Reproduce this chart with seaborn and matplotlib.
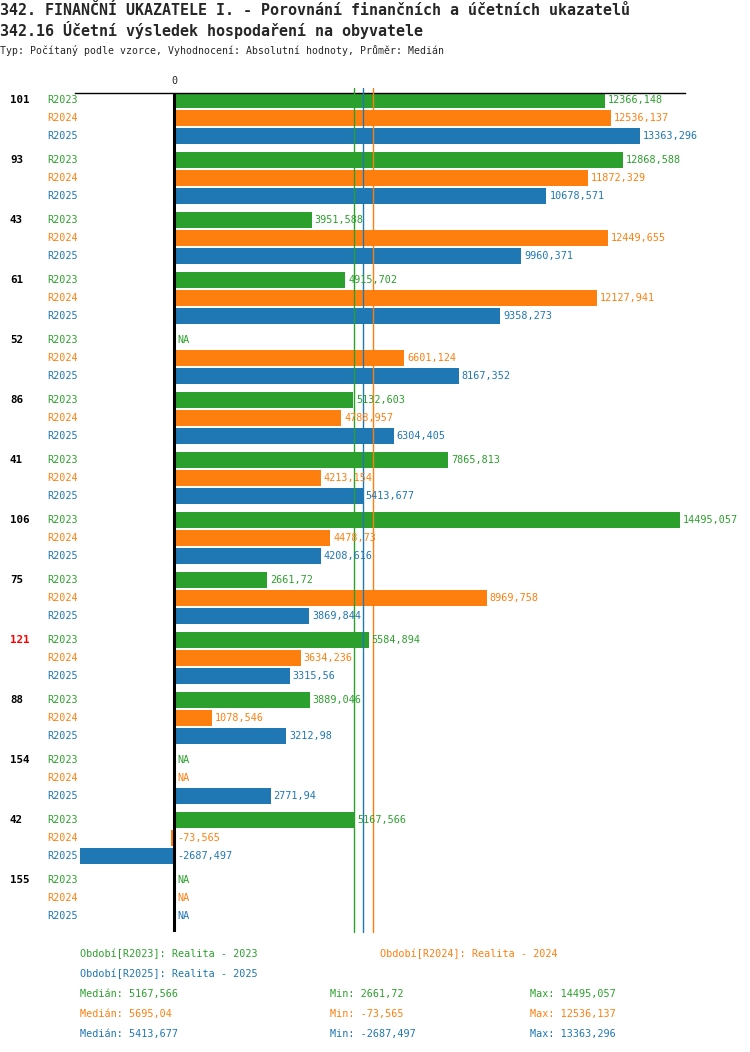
import numpy as np
import pandas as pd
import matplotlib
matplotlib.use("Agg")
import matplotlib.pyplot as plt
import matplotlib.transforms as mtransforms
import seaborn as sns
from decimal import Decimal, ROUND_HALF_EVEN

groups = ["101", "93", "43", "61", "52", "86", "41", "106", "75", "121", "88", "154", "42", "155"]
periods = ["R2023", "R2024", "R2025"]
r2023 = [12366.148, 12868.588, 3951.588, 4915.702, np.nan, 5132.603, 7865.813,
         14495.057, 2661.72, 5584.894, 3889.046, np.nan, 5167.566, np.nan]
r2024 = [12536.137, 11872.329, 12449.655, 12127.941, 6601.124, 4788.957, 4213.154,
         4478.73, 8969.758, 3634.236, 1078.546, np.nan, -73.565, np.nan]
r2025 = [13363.296, 10678.571, 9960.371, 9358.273, 8167.352, 6304.405, 5413.677,
         4208.616, 3869.844, 3315.56, 3212.98, 2771.94, -2687.497, np.nan]
highlight = "121"
period_names = {"R2023": "Realita - 2023", "R2024": "Realita - 2024", "R2025": "Realita - 2025"}
colors = {"R2023": "#2ca02c", "R2024": "#ff7f0e", "R2025": "#1f77b4"}

series = {"R2023": r2023, "R2024": r2024, "R2025": r2025}
df = pd.DataFrame({
    "group": np.repeat(groups, 3),
    "period": periods * len(groups),
    "value": np.column_stack([r2023, r2024, r2025]).ravel(),
})


def fmt(v):
    if np.isnan(v):
        return "NA"
    d = Decimal(repr(float(v))).quantize(Decimal("0.001"), rounding=ROUND_HALF_EVEN)
    s = str(d).rstrip("0").rstrip(".")
    return s.replace(".", ",")


sns.set_style("white")
plt.rcParams["font.family"] = ["DejaVu Sans Mono", "DejaVu Sans"]

W, H = 750, 1052
fig = plt.figure(figsize=(W / 100, H / 100), dpi=100)
ax = fig.add_axes([75 / W, 1 - 932 / H, 610 / W, (932 - 93) / H])

sns.barplot(data=df, y="group", x="value", hue="period", order=groups,
            hue_order=periods, palette=colors, orient="h", width=0.9, gap=0.11,
            saturation=1, linewidth=0, legend=False, ax=ax)

# 0 sits at pixel 174, the largest value at ~679
ppu = 505.5 / 14495.057
ax.set_xlim((75 - 174) / ppu, (685 - 174) / ppu)
ax.set_ylim(13 + 34 / 60, -25 / 60)
ax.set_xlabel("")
ax.set_ylabel("")
ax.set_yticks([])
ax.xaxis.tick_top()
ax.set_xticks([0])
ax.set_xticklabels(["0"])
ax.tick_params(axis="x", length=0, pad=5, labelsize=7.3)
for side in ["left", "right", "bottom"]:
    ax.spines[side].set_visible(False)
ax.spines["top"].set_color("black")
ax.spines["top"].set_linewidth(1)

ax.axvline(0, color="black", lw=2.2, zorder=4)

medians = {p: np.nanmedian(series[p]) for p in periods}
for p in periods:
    ax.axvline(medians[p], color=colors[p], lw=1, ymin=0, ymax=1 + 5 / 839,
               clip_on=False, zorder=3)

offsets = [-0.3, 0.0, 0.3]
lab = mtransforms.blended_transform_factory(fig.transFigure, ax.transData)
for i, g in enumerate(groups):
    ax.text(10 / W, i + offsets[0], g, transform=lab, va="center", ha="left",
            fontsize=7.8, fontweight="bold",
            color="red" if g == highlight else "black")
    for k, p in enumerate(periods):
        v = series[p][i]
        y = i + offsets[k]
        ax.text(47 / W, y, p, transform=lab, va="center", ha="left",
                fontsize=7.3, color=colors[p])
        x = v if (not np.isnan(v) and v > 0) else 0
        ax.annotate(fmt(v), (x, y), xytext=(3, 0), textcoords="offset pixels",
                    va="center", ha="left", fontsize=7.3, color=colors[p], zorder=5)

fig.text(0, 1 - 15 / H, "342. FINANČNÍ UKAZATELE I. - Porovnání finančních a účetních ukazatelů",
         fontsize=10.8, fontweight="bold", va="baseline", ha="left")
fig.text(0, 1 - 36 / H, "342.16 Účetní výsledek hospodaření na obyvatele",
         fontsize=10.8, fontweight="bold", va="baseline", ha="left")
fig.text(0, 1 - 54 / H, "Typ: Počítaný podle vzorce, Vyhodnocení: Absolutní hodnoty, Průměr: Medián",
         fontsize=7.1, va="baseline", ha="left")

fig.text(80 / W, 1 - 954 / H, "Období[R2023]: " + period_names["R2023"],
         fontsize=7.3, color=colors["R2023"], va="center")
fig.text(380 / W, 1 - 954 / H, "Období[R2024]: " + period_names["R2024"],
         fontsize=7.3, color=colors["R2024"], va="center")
fig.text(80 / W, 1 - 974 / H, "Období[R2025]: " + period_names["R2025"],
         fontsize=7.3, color=colors["R2025"], va="center")
for k, p in enumerate(periods):
    yy = 1 - (994 + 20 * k) / H
    vals = np.array(series[p])
    fig.text(80 / W, yy, "Medián: " + fmt(medians[p]), fontsize=7.3, color=colors[p], va="center")
    fig.text(330 / W, yy, "Min: " + fmt(np.nanmin(vals)), fontsize=7.3, color=colors[p], va="center")
    fig.text(530 / W, yy, "Max: " + fmt(np.nanmax(vals)), fontsize=7.3, color=colors[p], va="center")

fig.savefig("out.png", dpi=100)
